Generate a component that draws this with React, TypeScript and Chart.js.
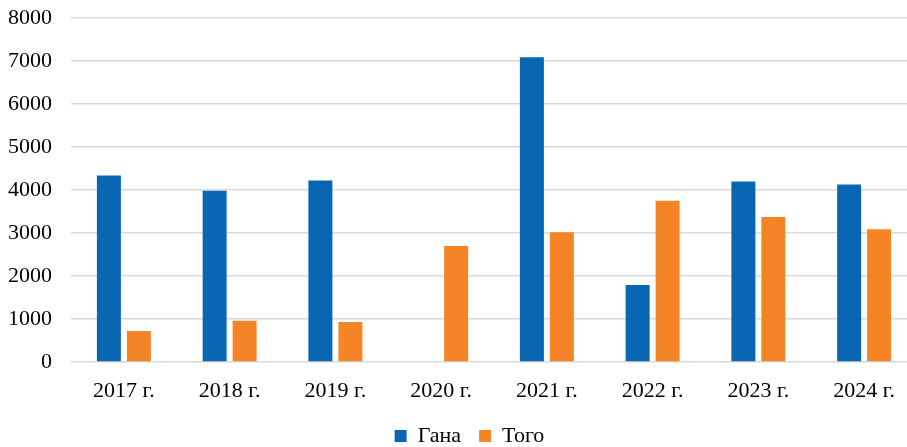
import { useEffect, useRef } from "react";
import { Chart, registerables } from "chart.js";

Chart.register(...registerables);

const categories = ["2017 г.", "2018 г.", "2019 г.", "2020 г.", "2021 г.", "2022 г.", "2023 г.", "2024 г."];
const ghana = [4340, 3980, 4220, 0, 7090, 1790, 4200, 4130];
const togo = [720, 960, 930, 2700, 3020, 3750, 3370, 3090];
const yMin = 0;
const yMax = 8000;
const yStep = 1000;

const FONT = "'Liberation Serif', 'Times New Roman', serif";

const legendShift = {
  id: "legendShift",
  afterLayout(chart: any) {
    const l = chart.legend;
    if (l) {
      l.left += 11;
      l.right += 11;
    }
  },
};

export default function App() {
  const ref = useRef<HTMLCanvasElement | null>(null);

  useEffect(() => {
    if (!ref.current) return;
    const chart = new Chart(ref.current, {
      type: "bar",
      data: {
        labels: categories,
        datasets: [
          {
            label: "Гана",
            data: ghana,
            backgroundColor: "#0866B2",
            borderWidth: 0,
            categoryPercentage: 0.567,
            barPercentage: 0.8,
          },
          {
            label: "Того",
            data: togo,
            backgroundColor: "#F58426",
            borderWidth: 0,
            categoryPercentage: 0.567,
            barPercentage: 0.8,
          },
        ],
      },
      options: {
        responsive: false,
        animation: false,
        devicePixelRatio: 1,
        layout: { padding: { top: 18, left: 0, right: 0, bottom: 0 } },
        plugins: {
          legend: {
            position: "bottom",
            labels: {
              boxWidth: 12,
              boxHeight: 12,
              padding: 18,
              color: "#000",
              font: { family: FONT, size: 22 },
            },
          },
          tooltip: { enabled: false },
        },
        scales: {
          x: {
            grid: { display: false, drawTicks: false },
            border: { display: false },
            ticks: {
              color: "#000",
              padding: 16,
              font: { family: FONT, size: 22 },
            },
            afterFit(scale: any) {
              scale.height = 45;
            },
          },
          y: {
            min: yMin,
            max: yMax,
            border: { display: false },
            grid: { color: "#d9d9d9", lineWidth: 1.5, drawTicks: false },
            ticks: {
              stepSize: yStep,
              color: "#000",
              padding: 19,
              font: { family: FONT, size: 22 },
              callback: (v: any) => String(v),
            },
            afterFit(scale: any) {
              scale.width = 71;
              scale.paddingTop = 0;
              scale.paddingBottom = 0;
            },
          },
        },
      },
      plugins: [legendShift],
    });
    return () => chart.destroy();
  }, []);

  return (
    <div
      style={{
        position: "fixed",
        left: 0,
        top: 0,
        width: 907,
        height: 447,
        overflow: "hidden",
        background: "#fff",
      }}
    >
      <canvas ref={ref} width={917} height={457} style={{ display: "block" }} />
    </div>
  );
}
